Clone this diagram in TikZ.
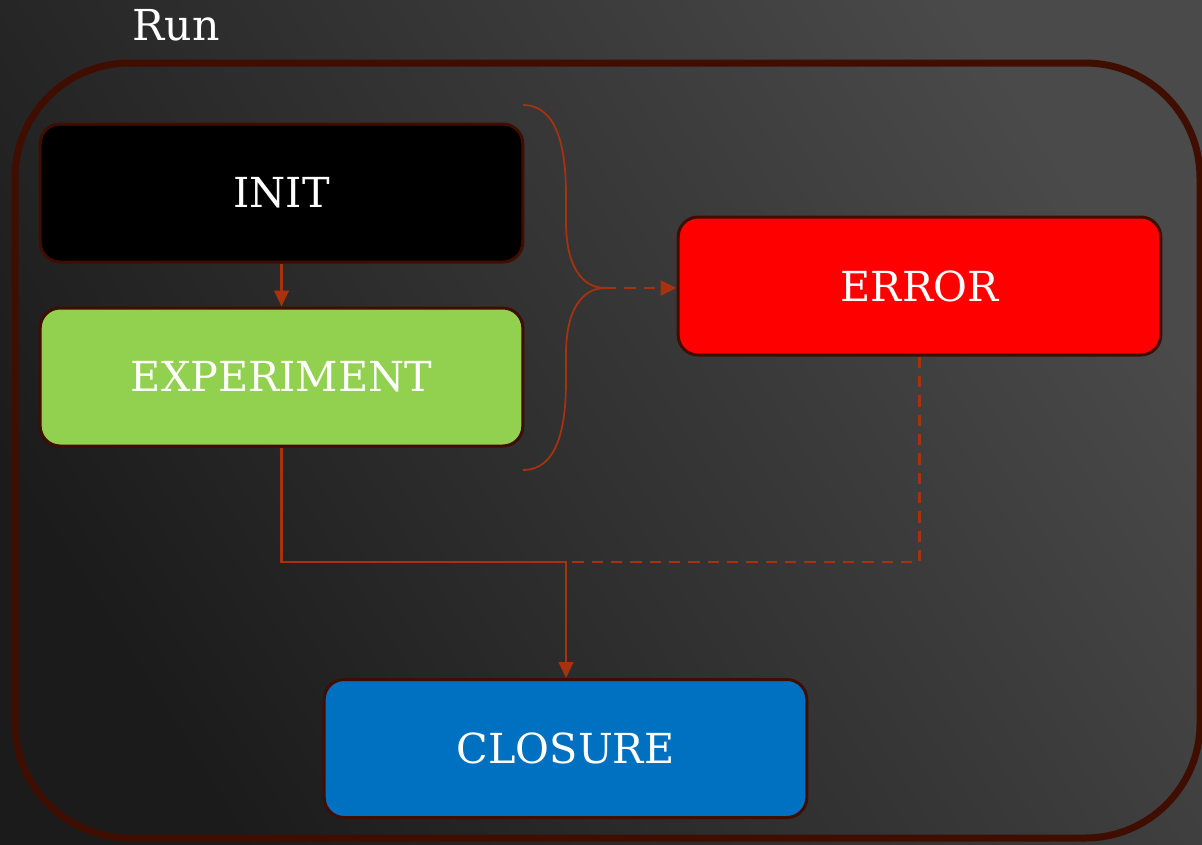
\documentclass[tikz,border=0pt]{standalone}
\usepackage{fontspec}
\setmainfont{DejaVu Serif}
\usetikzlibrary{arrows.meta}
\definecolor{bgdark}{HTML}{1B1B1B}
\definecolor{bglight}{HTML}{4A4A4A}
\definecolor{rim}{HTML}{400E00}
\definecolor{wire}{HTML}{A8320E}
\definecolor{greenfill}{HTML}{92D050}
\definecolor{bluefill}{HTML}{0070C0}
\tikzset{
  stage/.style={draw=rim, line width=2.25pt, rounded corners=15pt,
    minimum width=362pt, minimum height=103.5pt, inner sep=0pt,
    text=white, font=\fontsize{31}{36}\selectfont},
  tip/.style={-{Triangle[length=12pt,width=11pt]}},
  flow/.style={draw=wire, line width=1.7pt, tip},
  dflow/.style={draw=wire, line width=2.2pt, dash pattern=on 8.5pt off 6pt},
  bracepath/.style={draw=wire, line width=1.3pt}
}
\begin{document}
\begin{tikzpicture}[x=0.75pt, y=-0.75pt]
  \useasboundingbox (0,0) rectangle (1202,844);
  % background
  \shade[left color=bgdark, right color=bglight, shading angle=122]
    (0,0) rectangle (1202,844);
  % group frame
  \draw[rim, line width=5.25pt, rounded corners=86pt] (15,63) rectangle (1200,838);
  \node[text=white, font=\fontsize{32}{38}\selectfont, anchor=base] (runlabel) at (176,40) {Run};

  % stages
  \node[stage, fill=black] (init) at (281.5,193) {INIT};
  \node[stage, fill=greenfill] (exp) at (281.5,377) {EXPERIMENT};
  \node[stage, fill=red] (err) at (919.5,286) {ERROR};
  \node[stage, fill=bluefill] (clo) at (565.5,748.5) {CLOSURE};

  % brace grouping INIT and EXPERIMENT
  \coordinate (btop) at (523,105);
  \coordinate (bbot) at (523,470);
  \coordinate (btip) at (605,288);
  \draw[bracepath] (btop) .. controls (558,105) and (566,150) .. (566,195)
    -- (566,222) .. controls (566,266) and (582,288) .. (btip);
  \draw[bracepath] (btip) .. controls (582,288) and (566,310) .. (566,354)
    -- (566,381) .. controls (566,426) and (558,470) .. (bbot);

  % connectors
  \draw[dflow, tip] (btip) -- (err.west |- btip);
  \draw[flow] (init.south) -- (exp.north);
  \coordinate (join) at (566,562);
  \draw[flow] (exp.south) |- (join) -- (clo.north -| join);
  \draw[dflow] (err.south) |- (join);
\end{tikzpicture}
\end{document}
